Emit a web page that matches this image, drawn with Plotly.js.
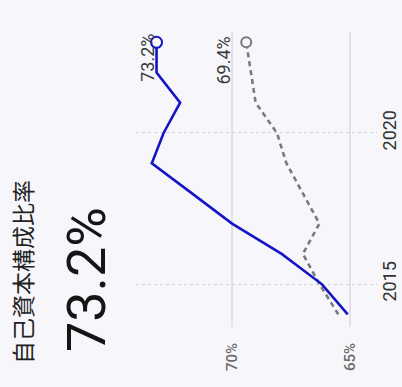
<!DOCTYPE html>
<html>
<head>
<meta charset="utf-8">
<script src="https://cdn.plot.ly/plotly-3.0.1.min.js"></script>
<style>
html,body{margin:0;padding:0;background:#f7f7fb;}
#chart{width:402px;height:387px;}
</style>
</head>
<body>
<div id="chart"></div>
<script>
// Data
var years = [2014, 2015, 2016, 2017, 2018, 2019, 2020, 2021, 2022, 2023];
var companyRatio = [65.1, 66.2, 67.9, 70.0, 71.7, 73.4, 72.9, 72.2, 73.2, 73.2];
var benchmarkRatio = [65.5, 66.3, 67.0, 66.3, 67.0, 67.7, 68.1, 69.0, 69.2, 69.4];
var titleText = "自己資本構成比率";
var headlineText = "73.2%";
var valueTicks = [65, 70];
var yearTicks = [2015, 2020];

var bg = "#f7f7fb";
var blue = "#1515c4";
var gray = "#7a7a7a";

var nB = companyRatio.length - 1;
var nG = benchmarkRatio.length - 1;

var traces = [
  {
    x: benchmarkRatio, y: years, type: "scatter", mode: "lines",
    line: {color: gray, width: 2.6, dash: "5px,4px"}, hoverinfo: "skip"
  },
  {
    x: [benchmarkRatio[nG]], y: [years[nG]], type: "scatter", mode: "markers",
    marker: {symbol: "circle", size: 10, color: bg, line: {color: gray, width: 2}}, hoverinfo: "skip"
  },
  {
    x: companyRatio, y: years, type: "scatter", mode: "lines",
    line: {color: blue, width: 2.6}, hoverinfo: "skip"
  },
  {
    x: [companyRatio[nB]], y: [years[nB]], type: "scatter", mode: "markers",
    marker: {symbol: "circle", size: 11, color: bg, line: {color: blue, width: 2}}, hoverinfo: "skip"
  }
];

var layout = {
  width: 402, height: 387,
  margin: {l: 136, r: 25, t: 32, b: 60},
  paper_bgcolor: bg, plot_bgcolor: bg,
  showlegend: false,
  font: {family: "Roboto, Liberation Sans, Arial, sans-serif", color: "#333"},
  xaxis: {
    range: [74.07, 63.86],
    tickvals: valueTicks,
    ticktext: valueTicks.map(function(v){return v + "%";}),
    tickangle: -90,
    tickfont: {family: "Roboto, Liberation Sans, Arial, sans-serif", size: 15, color: "#6a6a6a", weight: 500},
    showgrid: true, gridcolor: "#e2e2e6", gridwidth: 1.5,
    zeroline: false, showline: false, ticks: "",
    ticklabelstandoff: 12
  },
  yaxis: {
    range: [2013.58, 2023.34],
    side: "right",
    tickvals: yearTicks,
    ticktext: yearTicks.map(String),
    tickangle: -90,
    tickfont: {family: "Roboto, Liberation Sans, Arial, sans-serif", size: 18, color: "#333"},
    showgrid: true, gridcolor: "#cfcfd4", gridwidth: 1, griddash: "dot",
    zeroline: false, showline: false, ticks: ""
  },
  annotations: [
    {
      xref: "paper", yref: "paper", x: (22 - 136) / 241, y: (327 - 272) / 295,
      xanchor: "center", yanchor: "middle", showarrow: false, textangle: -90,
      text: titleText,
      font: {family: "Noto Sans CJK JP, sans-serif", size: 23, color: "#222"}
    },
    {
      xref: "paper", yref: "paper", x: (86 - 136) / 241, y: (327 - 280) / 295,
      xanchor: "center", yanchor: "middle", showarrow: false, textangle: -90,
      text: headlineText,
      font: {family: "Roboto, Liberation Sans, Arial, sans-serif", size: 54, color: "#151515"}
    },
    {
      x: companyRatio[nB], y: years[nB], xref: "x", yref: "y",
      xanchor: "center", yanchor: "middle", showarrow: false, textangle: -90,
      xshift: -9, yshift: -16,
      text: companyRatio[nB].toFixed(1) + "%",
      font: {family: "Roboto, Liberation Sans, Arial, sans-serif", size: 18, color: "#3a3a3a"}
    },
    {
      x: benchmarkRatio[nG], y: years[nG], xref: "x", yref: "y",
      xanchor: "center", yanchor: "middle", showarrow: false, textangle: -90,
      xshift: -23, yshift: -18,
      text: benchmarkRatio[nG].toFixed(1) + "%",
      font: {family: "Roboto, Liberation Sans, Arial, sans-serif", size: 18, color: "#3a3a3a"}
    }
  ]
};

Plotly.newPlot("chart", traces, layout, {displayModeBar: false, staticPlot: true});
</script>
</body>
</html>
